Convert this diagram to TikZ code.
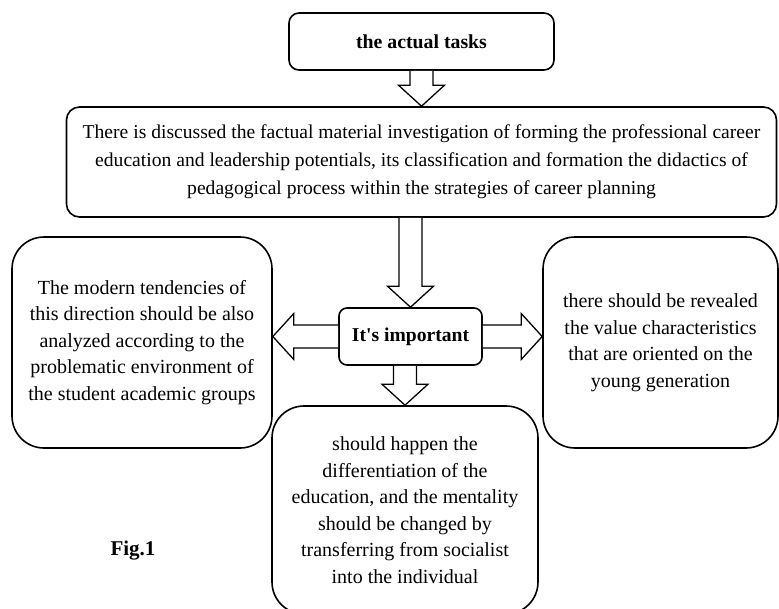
\documentclass[tikz,border=0pt]{standalone}
\usepackage{fontspec}
\setmainfont{Liberation Serif}
\usetikzlibrary{calc}
\newcommand{\blockarrow}[2]{%
  \coordinate (hb) at ($(#2)!21pt!(#1)$);
  \draw[fatarrow] ($(#1)!11.5pt!90:(#2)$) -- ($(hb)!11.5pt!90:(#2)$) -- ($(hb)!23pt!90:(#2)$) -- (#2)
    -- ($(hb)!23pt!-90:(#2)$) -- ($(hb)!11.5pt!-90:(#2)$) -- ($(#1)!11.5pt!-90:(#2)$);}

\begin{document}
\begin{tikzpicture}[x=1pt,y=-1pt,
  every node/.style={draw,line width=1.6pt,align=center,inner sep=0pt,fill=white},
  fatarrow/.style={line width=1.3pt,line join=miter,fill=white},
  txt/.style={font=\fontsize{20}{26.5}\selectfont}]
  \useasboundingbox (0,0) rectangle (779,608);
  \node[minimum width=265pt,minimum height=57pt,rounded corners=10pt,font=\fontsize{19.8}{23}\selectfont\bfseries] (tasks) at (421.5,41.5) {the actual tasks};
  \node[minimum width=710pt,minimum height=110pt,rounded corners=13pt,font=\fontsize{19.6}{28}\selectfont] (main) at (421.5,162)
    {There is discussed the factual material investigation of forming the professional career\\
     education and leadership potentials, its classification and formation the didactics of\\
     pedagogical process within the strategies of career planning};
  \node[minimum width=143pt,minimum height=57pt,rounded corners=8pt,font=\fontsize{19.6}{23}\selectfont\bfseries] (imp) at (410.5,336.5) {It\textquotesingle s important};
  \node[txt,minimum width=260pt,minimum height=211pt,rounded corners=32pt] (left) at (142,342.5)
    {The modern tendencies of\\ this direction should be also\\ analyzed according to the\\ problematic environment of\\ the student academic groups};
  \node[txt,minimum width=235pt,minimum height=211pt,rounded corners=32pt] (right) at (660.5,342.5)
    {there should be revealed\\ the value characteristics\\ that are oriented on the\\ young generation};
  \node[txt,minimum width=266pt,minimum height=208pt,rounded corners=32pt] (bottom) at (405,510)
    {should happen the\\ differentiation of the\\ education, and the mentality\\ should be changed by\\ transferring from socialist\\ into the individual};
  \node[draw=none,fill=none,font=\fontsize{21}{24}\selectfont\bfseries] (fig) at (133,551) {Fig.1};
  \coordinate (a1) at (imp.north |- main.south);
  \coordinate (a2) at (imp.west -| left.east);
  \coordinate (a3) at (imp.east -| right.west);
  \coordinate (a4) at (bottom.north |- imp.south);
  \blockarrow{tasks.south}{main.north}
  \blockarrow{a1}{imp.north}
  \blockarrow{imp.west}{a2}
  \blockarrow{imp.east}{a3}
  \blockarrow{a4}{bottom.north}
\end{tikzpicture}
\end{document}
